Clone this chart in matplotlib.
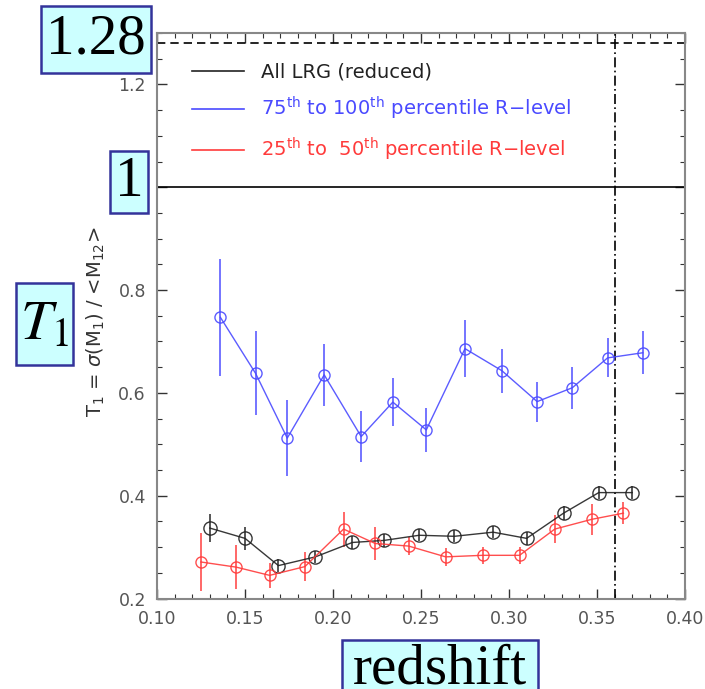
import matplotlib
matplotlib.use('Agg')
import matplotlib.pyplot as plt
from matplotlib.lines import Line2D
from matplotlib.patches import Rectangle
from matplotlib.ticker import MultipleLocator, FormatStrFormatter

plt.rcParams['mathtext.fontset'] = 'dejavusans'

# all LRG (reduced)
z_all = [0.130, 0.150, 0.169, 0.190, 0.211, 0.229, 0.249, 0.269, 0.291, 0.310, 0.331, 0.351, 0.370]
t_all = [0.337, 0.317, 0.264, 0.281, 0.309, 0.313, 0.323, 0.321, 0.329, 0.317, 0.366, 0.406, 0.406]
e_all = [0.027, 0.023, 0.013, 0.012, 0.012, 0.012, 0.012, 0.012, 0.012, 0.012, 0.013, 0.013, 0.012]

# 75th to 100th percentile
z_blue = [0.136, 0.156, 0.174, 0.195, 0.216, 0.234, 0.253, 0.275, 0.296, 0.316, 0.336, 0.356, 0.376]
t_blue = [0.747, 0.638, 0.512, 0.635, 0.515, 0.582, 0.528, 0.686, 0.643, 0.583, 0.610, 0.668, 0.678]
e_blue = [0.114, 0.082, 0.074, 0.061, 0.049, 0.047, 0.043, 0.055, 0.043, 0.039, 0.041, 0.038, 0.042]

# 25th to 50th percentile
z_red = [0.125, 0.145, 0.164, 0.184, 0.206, 0.224, 0.243, 0.264, 0.285, 0.306, 0.326, 0.347, 0.365]
t_red = [0.271, 0.261, 0.245, 0.262, 0.335, 0.307, 0.302, 0.281, 0.284, 0.284, 0.335, 0.354, 0.366]
e_red = [0.056, 0.043, 0.024, 0.028, 0.034, 0.032, 0.017, 0.018, 0.017, 0.017, 0.028, 0.030, 0.021]

labels = ['All LRG (reduced)',
          r'75$^{\rm th}$ to 100$^{\rm th}$ percentile R$-$level',
          r'25$^{\rm th}$ to  50$^{\rm th}$ percentile R$-$level']
colors = ['#222222', '#4a4aff', '#ff3b3b']

z_cut = 0.36
t_one = 1.0
t_top = 1.28

W, H = 705, 689
fig = plt.figure(figsize=(W / 100, H / 100), dpi=100)
ax = fig.add_axes([157 / W, 1 - 598.5 / H, 528 / W, 565.5 / H])

series = [(z_all, t_all, e_all, 9.5), (z_blue, t_blue, e_blue, 8), (z_red, t_red, e_red, 8)]
for (z, t, e, ms), c in zip(series, colors):
    ax.errorbar(z, t, yerr=e, fmt='-o', color=c, mfc='none', mec=c, ms=ms,
                lw=1.0, elinewidth=1.2, capsize=0, mew=1.0, alpha=0.9)

ax.axhline(t_one, color='black', lw=1.2)
ax.axhline(t_top, color='black', lw=1.2, ls=(0, (5, 3)))
ax.axvline(z_cut, color='black', lw=1.2, ls=(0, (6, 2, 1, 2)))

ax.set_xlim(0.10, 0.40)
ax.set_ylim(0.2, 1.30)
ax.xaxis.set_major_locator(MultipleLocator(0.05))
ax.xaxis.set_minor_locator(MultipleLocator(0.01))
ax.yaxis.set_major_locator(MultipleLocator(0.2))
ax.yaxis.set_minor_locator(MultipleLocator(0.05))
ax.xaxis.set_major_formatter(FormatStrFormatter('%.2f'))
ax.yaxis.set_major_formatter(FormatStrFormatter('%.1f'))
ax.tick_params(which='both', direction='in', top=True, right=True,
               color='#333333', labelcolor='#555555', labelsize=12.5)
ax.tick_params(which='major', length=7, width=1.0, pad=8)
ax.tick_params(which='minor', length=3.5, width=0.8)
for s in ax.spines.values():
    s.set_color('#888888')
    s.set_linewidth(1.5)

ax.set_ylabel(r'T$_1$ = $\sigma$(M$_1$) / <M$_{12}$>', color='#333333', fontsize=14)
ax.yaxis.set_label_coords(-0.095, 0.49)
ax.set_xlabel('redshift', color='#777777', fontsize=12, labelpad=12)

handles = [Line2D([], [], color=c, lw=1.2) for c in colors]
leg = ax.legend(handles, labels, loc='upper left', bbox_to_anchor=(0.066, 0.948),
                frameon=False, fontsize=14, handlelength=2.7, handletextpad=0.85,
                labelspacing=0.7, borderpad=0, borderaxespad=0)
for txt, c in zip(leg.get_texts(), colors):
    txt.set_color(c)


def label_box(x0, y0, x1, y1, s, **kw):
    # box given in pixels from the top-left corner
    fig.add_artist(Rectangle((x0 / W, 1 - y1 / H), (x1 - x0) / W, (y1 - y0) / H,
                             transform=fig.transFigure, facecolor='#ccffff',
                             edgecolor='#33339a', lw=1.8, zorder=10))
    fig.text((x0 + x1) / 2 / W, 1 - (y0 + y1) / 2 / H, s, ha='center', va='center',
             zorder=11, **kw)


serif = dict(family='Liberation Serif', fontsize=41, color='black')
label_box(41, 6, 151, 73, '1.28', **serif)
label_box(110, 151, 148, 213, '1', **serif)
label_box(16, 283, 73, 365, r'$T_1$', fontsize=41, math_fontfamily='stix', color='black')
label_box(342, 640, 538, 700, 'redshift', **serif)

fig.savefig('out.png', dpi=100)
